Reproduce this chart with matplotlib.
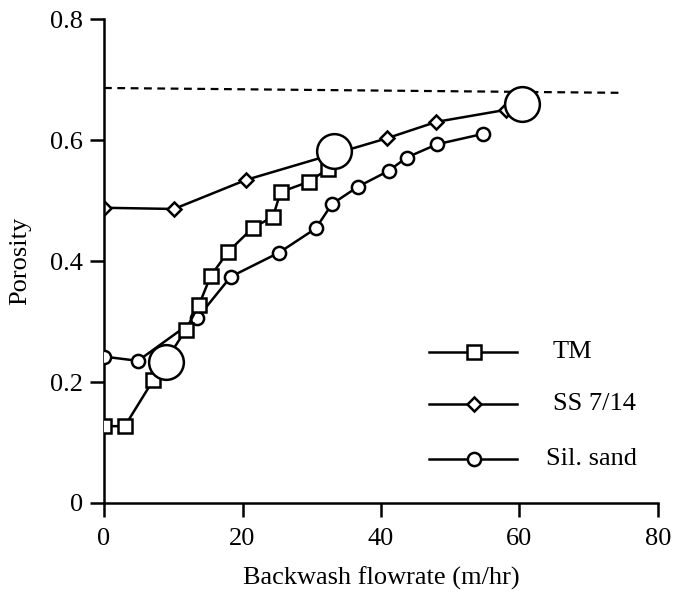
import matplotlib
matplotlib.use("Agg")
import matplotlib.pyplot as plt

# Data
tm_x = [0, 3.0, 7.1, 11.8, 13.7, 15.4, 17.9, 21.5, 24.4, 25.5, 29.6, 32.3]
tm_y = [0.127, 0.127, 0.203, 0.286, 0.327, 0.375, 0.415, 0.455, 0.473, 0.514, 0.531, 0.552]

ss_x = [0, 10.1, 20.5, 40.9, 48.0, 58.1]
ss_y = [0.488, 0.486, 0.534, 0.603, 0.630, 0.650]

sil_x = [0, 4.9, 13.5, 18.3, 25.3, 30.6, 32.9, 36.7, 41.1, 43.7, 48.1, 54.7]
sil_y = [0.242, 0.235, 0.306, 0.374, 0.414, 0.454, 0.494, 0.523, 0.549, 0.571, 0.593, 0.610]

big_x = [8.9, 33.2, 60.4]
big_y = [0.233, 0.582, 0.660]

dash_x = [0, 74.5]
dash_y = [0.686, 0.678]

legend_labels = ["TM", "SS 7/14", "Sil. sand"]

plt.rcParams['font.family'] = ['Liberation Serif', 'DejaVu Serif']

fig = plt.figure(figsize=(6.82, 5.94), dpi=100)
ax = fig.add_axes([0.1525, 0.1532, 0.8123, 0.8148])

lw = 1.8
mew = 1.8
ax.plot(dash_x, dash_y, color='black', lw=1.6, ls=(0, (3.5, 2.5)), zorder=1)
ax.plot(ss_x, ss_y, color='black', lw=lw, marker='D', ms=7.5, mfc='white', mec='black', mew=mew, zorder=2)
ax.plot(sil_x, sil_y, color='black', lw=lw, marker='o', ms=9.5, mfc='white', mec='black', mew=mew, zorder=3)
ax.plot(tm_x, tm_y, color='black', lw=lw, marker='s', ms=10, mfc='white', mec='black', mew=mew, zorder=4)
ax.plot(big_x, big_y, ls='none', marker='o', ms=25, mfc='white', mec='black', mew=mew, zorder=5)

ax.set_xlim(0, 80)
ax.set_ylim(0, 0.8)
ax.set_xticks([0, 20, 40, 60, 80])
ax.set_xticklabels(['0', '20', '40', '60', '80'])
ax.set_yticks([0, 0.2, 0.4, 0.6, 0.8])
ax.set_yticklabels(['0', '0.2', '0.4', '0.6', '0.8'])

for s in ['top', 'right']:
    ax.spines[s].set_visible(False)
for s in ['left', 'bottom']:
    ax.spines[s].set_linewidth(1.8)
ax.tick_params(direction='out', length=10, width=1.8, labelsize=19)
ax.tick_params(axis='x', pad=8)
ax.tick_params(axis='y', pad=5)
ax.set_xlabel('Backwash flowrate (m/hr)', fontsize=19, labelpad=12)
ax.set_ylabel('Porosity', fontsize=19, labelpad=14)

# Manual legend (axes coordinates)
markers = [('s', 10), ('D', 7.5), ('o', 9.5)]
rows_y = [0.312, 0.205, 0.091]
x0, x1, xm = 0.587, 0.745, 0.668
text_x = [0.810, 0.810, 0.797]
for (m, ms), yy, lab, tx in zip(markers, rows_y, legend_labels, text_x):
    ax.plot([x0, x1], [yy, yy], transform=ax.transAxes, color='black', lw=lw, clip_on=False)
    ax.plot([xm], [yy], transform=ax.transAxes, marker=m, ms=ms, mfc='white', mec='black', mew=mew, clip_on=False)
    ax.text(tx, yy, lab, transform=ax.transAxes, fontsize=19, va='center', ha='left')

fig.savefig('out.png', dpi=100)
